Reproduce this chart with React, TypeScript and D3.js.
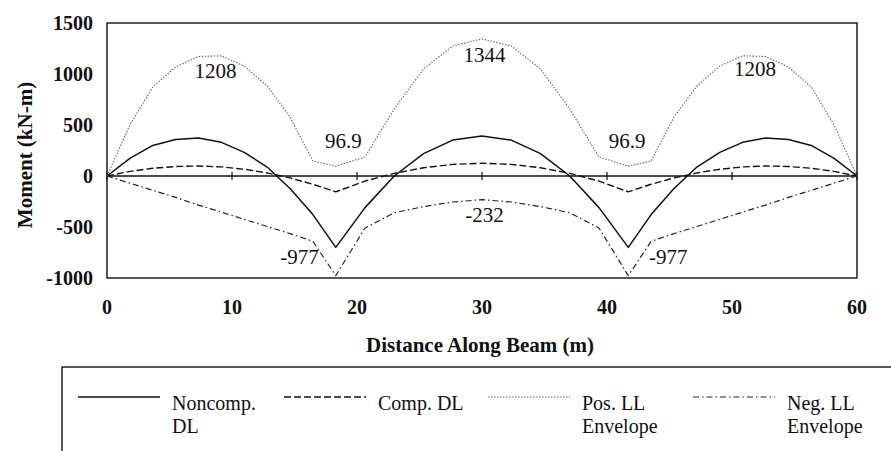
import React from 'react';
import * as d3 from 'd3';

// Tenth points of the three spans (m)
const stations = [
  0, 1.83, 3.66, 5.49, 7.32, 9.15, 10.98, 12.81, 14.64, 16.47, 18.3,
  20.64, 22.98, 25.32, 27.66, 30, 32.34, 34.68, 37.02, 39.36, 41.7,
  43.53, 45.36, 47.19, 49.02, 50.85, 52.68, 54.51, 56.34, 58.17, 60,
];

// Moments (kN-m)
const noncompDL = [
  0, 172, 300, 358, 372, 330, 232, 88, -122, -378, -700,
  -310, 0, 220, 352, 392, 352, 220, 0, -310, -700,
  -378, -122, 88, 232, 330, 372, 358, 300, 172, 0,
];
const compDL = [
  0, 45, 76, 93, 98, 89, 66, 30, -19, -81, -155,
  -50, 26, 81, 114, 125, 114, 81, 26, -50, -155,
  -81, -19, 30, 66, 89, 98, 93, 76, 45, 0,
];
const posLL = [
  0, 500, 872, 1069, 1172, 1178, 1078, 882, 578, 147, 96.9,
  186, 657, 1049, 1275, 1344, 1275, 1049, 657, 186, 96.9,
  147, 578, 882, 1078, 1178, 1172, 1069, 872, 500, 0,
];
const negLL = [
  0, -70, -140, -210, -285, -355, -425, -495, -565, -640, -977,
  -510, -360, -300, -255, -232, -255, -300, -360, -510, -977,
  -640, -565, -495, -425, -355, -285, -210, -140, -70, 0,
];

const xTicks = [0, 10, 20, 30, 40, 50, 60];
const yTicks = [-1000, -500, 0, 500, 1000, 1500];

// annotation text, anchored in data units (m, kN-m)
const noteText = ['1208', '1344', '1208', '96.9', '96.9', '-232', '-977', '-977'];
const noteX = [8.68, 30.2, 51.84, 18.9, 41.6, 30.2, 15.4, 44.9];
const noteM = [961, 1118, 980, 275, 275, -451, -863, -863];

const legendLabels = [['Noncomp.', 'DL'], ['Comp. DL'], ['Pos. LL', 'Envelope'], ['Neg. LL', 'Envelope']];

const W = 891;
const H = 451;
const serif = 'Liberation Serif, Times New Roman, DejaVu Serif, serif';

const seriesStyle = [
  { data: noncompDL, stroke: '#111', width: 1.5, dash: 'none' },
  { data: compDL, stroke: '#111', width: 1.4, dash: '7,3' },
  { data: posLL, stroke: '#666', width: 1.1, dash: '1.5,1.5' },
  { data: negLL, stroke: '#222', width: 1.2, dash: '6,3,1.5,3' },
];

const App: React.FC = () => {
  const x = d3.scaleLinear().domain([0, 60]).range([107, 857]);
  const y = d3.scaleLinear().domain([-1000, 1500]).range([278, 23]);

  const line = (vals: number[]) =>
    d3.line<number>()
      .x((_, i) => x(stations[i]))
      .y((d) => y(d))(vals) || '';

  const legendX = [78, 284, 488, 693];
  const legendY = 397;

  return (
    <div style={{ position: 'absolute', left: 0, top: 0 }}>
      <svg width={W} height={H} style={{ display: 'block', background: '#fff', fontFamily: serif }}>
        {/* frame */}
        <rect x={x(0)} y={y(1500)} width={x(60) - x(0)} height={y(-1000) - y(1500)}
          fill="none" stroke="#111" strokeWidth={1.4} />
        {/* zero axis with ticks */}
        <line x1={x(0)} x2={x(60)} y1={y(0)} y2={y(0)} stroke="#111" strokeWidth={1.4} />
        {xTicks.map((t) => (
          <line key={'xt' + t} x1={x(t)} x2={x(t)} y1={y(0) - 4} y2={y(0) + 4} stroke="#111" strokeWidth={1.2} />
        ))}

        {/* series */}
        {seriesStyle.map((s, i) => (
          <path key={'s' + i} d={line(s.data)} fill="none" stroke={s.stroke}
            strokeWidth={s.width} strokeDasharray={s.dash} strokeLinejoin="round" />
        ))}

        {/* tick labels */}
        {xTicks.map((t) => (
          <text key={'xl' + t} x={x(t)} y={314} textAnchor="middle"
            fontWeight="bold" fontSize={20} fill="#111">{t}</text>
        ))}
        {yTicks.map((t) => (
          <text key={'yl' + t} x={93} y={y(t) + 7} textAnchor="end"
            fontWeight="bold" fontSize={20} fill="#111">{t}</text>
        ))}

        {/* axis titles */}
        <text x={480} y={352} textAnchor="middle" fontWeight="bold"
          fontSize={21} fill="#111">Distance Along Beam (m)</text>
        <text transform="translate(32,155) rotate(-90)" textAnchor="middle"
          fontWeight="bold" fontSize={21} fill="#111">Moment (kN-m)</text>

        {/* value notes */}
        {noteText.map((t, i) => (
          <text key={'n' + i} x={x(noteX[i])} y={y(noteM[i])} textAnchor="middle"
            fontSize={21} fill="#111">{t}</text>
        ))}

        {/* legend */}
        <rect x={62} y={367} width={W} height={200} fill="none" stroke="#111" strokeWidth={1.4} />
        {legendLabels.map((lab, i) => (
          <g key={'lg' + i}>
            <line x1={legendX[i]} x2={legendX[i] + 82} y1={legendY} y2={legendY}
              stroke={seriesStyle[i].stroke} strokeWidth={seriesStyle[i].width}
              strokeDasharray={seriesStyle[i].dash} />
            {lab.map((l, j) => (
              <text key={j} x={legendX[i] + 94} y={410 + j * 23}
                fontSize={20} fill="#111">{l}</text>
            ))}
          </g>
        ))}
      </svg>
    </div>
  );
};

export default App;
